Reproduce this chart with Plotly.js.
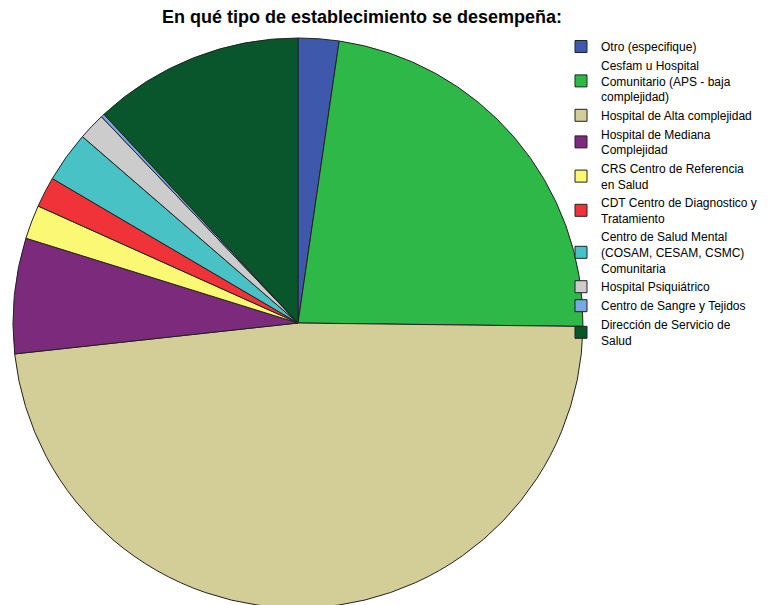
<!DOCTYPE html>
<html>
<head>
<meta charset="utf-8">
<script src="https://cdn.plot.ly/plotly-3.0.1.min.js"></script>
<style>html,body{margin:0;padding:0;overflow:hidden;background:#fff}#chart{width:772px;height:610px}</style>
</head>
<body>
<div id="chart"></div>
<script>
const categories = [
  "Otro (especifique)",
  "Cesfam u Hospital<br>Comunitario (APS - baja<br>complejidad)",
  "Hospital de Alta complejidad",
  "Hospital de Mediana<br>Complejidad",
  "CRS Centro de Referencia<br>en Salud",
  "CDT Centro de Diagnostico y<br>Tratamiento",
  "Centro de Salud Mental<br>(COSAM, CESAM, CSMC)<br>Comunitaria",
  "Hospital Psiquiátrico",
  "Centro de Sangre y Tejidos",
  "Dirección de Servicio de<br>Salud"
];
const counts = [12, 119, 250, 34, 10, 9, 15, 8, 1, 62];
const colors = ["#3E58AC", "#2EB848", "#D3CE97", "#7B2A7C", "#FBF873", "#EF3338", "#48C2C5", "#CCCCCC", "#7BA7E1", "#0A562C"];

const W = 772, H = 610;
const trace = {
  type: "pie",
  labels: categories,
  values: counts,
  sort: false,
  direction: "clockwise",
  rotation: 0,
  textinfo: "none",
  hoverinfo: "label+value+percent",
  marker: {colors: colors, line: {color: "#222222", width: 1}},
  domain: {x: [13 / W, 583 / W], y: [2 / H, 1 - 38 / H]}
};
const layout = {
  width: W, height: H,
  margin: {l: 0, r: 0, t: 0, b: 0},
  paper_bgcolor: "#ffffff",
  font: {family: "Liberation Sans, Arial, sans-serif", color: "#000000"},
  title: {
    text: "<b>En qué tipo de establecimiento se desempeña:</b>",
    font: {size: 18, family: "Liberation Sans, Arial, sans-serif", color: "#000"},
    x: 362 / W, xanchor: "center", y: 1 - 17 / H, yanchor: "middle"
  },
  showlegend: true,
  legend: {
    x: 561 / W, xanchor: "left", y: 1 - 32 / H, yanchor: "top",
    font: {size: 12, family: "Liberation Sans, Arial, sans-serif", color: "#000"},
    bgcolor: "rgba(0,0,0,0)", tracegroupgap: 0, itemwidth: 30
  }
};
Plotly.newPlot("chart", [trace], layout, {displayModeBar: false, staticPlot: true});
</script>
</body>
</html>
